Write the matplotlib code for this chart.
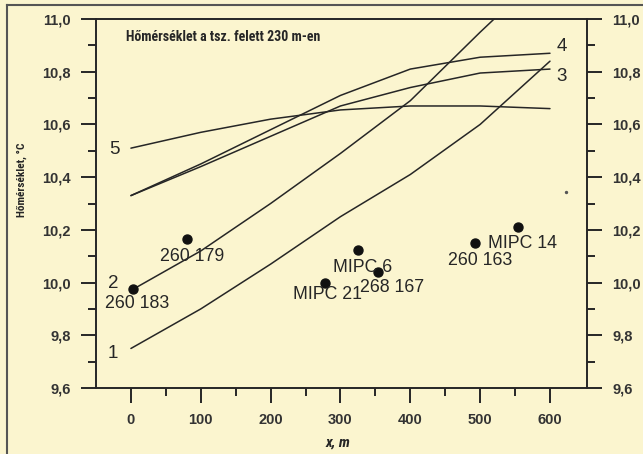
import numpy as np
import matplotlib
matplotlib.use("Agg")
import matplotlib.pyplot as plt
from matplotlib import font_manager as fm
from matplotlib.ticker import FixedLocator, FuncFormatter

# curves (x in m, temperature in degC)
x_curve = [0, 100, 200, 300, 400, 500, 600]
curve1 = [9.75, 9.90, 10.07, 10.25, 10.41, 10.60, 10.84]
x_curve2 = [0, 100, 200, 300, 400, 450, 500, 540]
curve2 = [9.97, 10.12, 10.30, 10.49, 10.69, 10.82, 10.95, 11.05]
curve3 = [10.33, 10.44, 10.555, 10.67, 10.74, 10.795, 10.81]
curve4 = [10.33, 10.45, 10.58, 10.71, 10.81, 10.855, 10.87]
curve5 = [10.51, 10.57, 10.62, 10.655, 10.67, 10.67, 10.66]

# measured wells
well_names = ["260 183", "260 179", "MIPC 21", "MIPC 6", "268 167", "260 163", "MIPC 14"]
well_x = [3, 80, 278, 325, 354, 493, 554]
well_t = [9.975, 10.165, 10.0, 10.123, 10.04, 10.15, 10.21]
label_x = [-37, 42, 232, 289, 328, 454, 511]
label_t = [9.922, 10.10, 9.955, 10.059, 9.983, 10.085, 10.15]

curve_ids = ["1", "2", "3", "4", "5"]
id_x = [-26, -26, 617, 617, -24]
id_t = [9.73, 9.998, 10.78, 10.894, 10.503]

bg = "#fbf5cf"
ink = "#262626"

# look for a condensed face for the headings
cond_names = set()
for f in fm.fontManager.ttflist:
    if "Condensed" in f.name or "Narrow" in f.name or "condensed" in str(f.stretch):
        cond_names.add(f.name)
cond = None
for pref in ["Liberation Sans Narrow", "DejaVu Sans Condensed", "Roboto Condensed",
             "Open Sans Condensed", "Noto Sans Condensed"]:
    if pref in cond_names:
        cond = pref
        break
if cond is None and cond_names:
    cond = sorted(cond_names)[0]
if cond is None:
    head_family = ["Roboto", "DejaVu Sans"]
    head_scale = 0.88
else:
    head_family = [cond, "DejaVu Sans"]
    head_scale = 1.0

fig = plt.figure(figsize=(6.43, 4.54), dpi=100, facecolor=bg)
ax = fig.add_axes([96/643, 1-388/454, (587-96)/643, (388-19)/454])
ax.set_facecolor(bg)

for xs, ys in [(x_curve, curve1), (x_curve2, curve2), (x_curve, curve3),
               (x_curve, curve4), (x_curve, curve5)]:
    ax.plot(xs, ys, color=ink, lw=1.1, solid_capstyle="round")

ax.scatter(well_x, well_t, s=42, color="#111111", zorder=3)
ax.scatter([623], [10.343], s=2, color="#555555", zorder=3)

for name, lx, lt in zip(well_names, label_x, label_t):
    ax.text(lx, lt, name, fontsize=12.8, color=ink, ha="left", va="center",
            family="Liberation Sans")
for cid, lx, lt in zip(curve_ids, id_x, id_t):
    ax.text(lx, lt, cid, fontsize=13.5, color=ink, ha="center", va="center",
            family="Liberation Sans", clip_on=False)

ax.text(-7, 10.932, "Hőmérséklet a tsz. felett 230 m-en", fontsize=10 * head_scale,
        fontweight="bold", fontstretch="condensed", color=ink, ha="left", va="center",
        family=head_family)

ax.set_xlim(-50, 653)
ax.set_ylim(9.6, 11.0)

for side in ["left", "right", "top", "bottom"]:
    ax.spines[side].set_color(ink)
    ax.spines[side].set_linewidth(1.4)

ax.xaxis.set_major_locator(FixedLocator(np.arange(0, 601, 100)))
ax.xaxis.set_minor_locator(FixedLocator(np.arange(50, 601, 100)))
ax.yaxis.set_major_locator(FixedLocator(np.arange(9.6, 11.01, 0.2)))
ax.yaxis.set_minor_locator(FixedLocator(np.arange(9.7, 11.0, 0.2)))
ax.yaxis.set_major_formatter(FuncFormatter(lambda v, p: f"{v:.1f}".replace(".", ",")))

ax.tick_params(axis="both", which="major", direction="out", length=11, width=1.4, color=ink)
ax.tick_params(axis="both", which="minor", direction="out", length=6, width=1.4, color=ink)
ax.tick_params(axis="y", which="both", left=True, right=True, labelleft=True, labelright=True)
ax.tick_params(axis="y", which="major", pad=7)
ax.tick_params(axis="x", which="major", pad=7)
for t in ax.xaxis.get_major_ticks() + ax.yaxis.get_major_ticks():
    for lab in (t.label1, t.label2):
        lab.set_fontsize(10.5)
        lab.set_fontweight("bold")
        lab.set_family("Liberation Sans")
        lab.set_color("#333333")

fig.text(22/643, 1-180/454, "Hőmérséklet, °C", rotation=90, fontsize=8.2 * head_scale,
         fontweight="bold", fontstretch="condensed", color=ink, ha="center", va="center",
         family=head_family)
fig.text(338/643, 1-443/454, "x, m", fontsize=11 * head_scale, fontweight="bold",
         style="italic", fontstretch="condensed", color=ink, ha="center", va="center",
         family=head_family)

# frame of the scanned page
fig.add_artist(plt.Line2D([7/643, 7/643], [0, 1-5/454], color="#555555", lw=1.5,
                          transform=fig.transFigure))
fig.add_artist(plt.Line2D([7/643, 1], [1-5/454, 1-5/454], color="#555555", lw=1.5,
                          transform=fig.transFigure))

fig.savefig("out.png", dpi=100, facecolor=bg)
